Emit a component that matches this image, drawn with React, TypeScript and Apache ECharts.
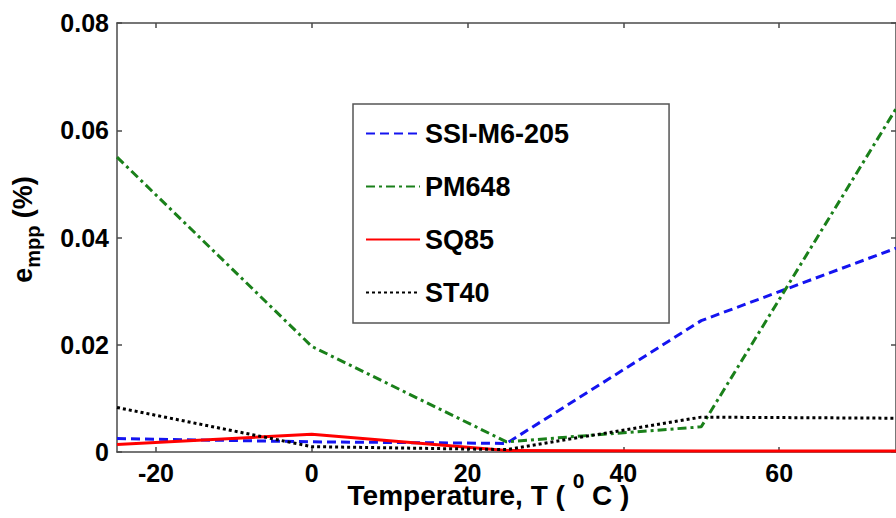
import React, { useEffect, useRef } from "react";
import * as echarts from "echarts";

const temperatures = [-25, 0, 25, 50, 75];
const ssiM6205 = [0.0025, 0.0019, 0.0016, 0.0245, 0.038];
const pm648 = [0.055, 0.0197, 0.0019, 0.0047, 0.064];
const sq85 = [0.0014, 0.0033, 0.0003, 0.0002, 0.0002];
const st40 = [0.0083, 0.001, 0.00045, 0.0065, 0.0063];
const xTickValues = [-20, 0, 20, 40, 60];
const seriesNames = ["SSI-M6-205", "PM648", "SQ85", "ST40"];

const FONT = "'Liberation Sans', Arial, sans-serif";
const AXIS_COLOR = "#4a4a4a";

function pairs(ys: number[]) {
  return temperatures.map((t, i) => [t, ys[i]]);
}

export default function App() {
  const ref = useRef<HTMLDivElement>(null);
  useEffect(() => {
    if (!ref.current) return;
    const chart = echarts.init(ref.current, undefined, { renderer: "svg" });
    const axisLine = { show: true, onZero: false, lineStyle: { color: AXIS_COLOR, width: 1.5 } };
    const xBase = {
      type: "value" as const,
      min: -25,
      max: 75,
      splitLine: { show: false },
      axisLine,
      axisTick: { show: true, inside: true, length: 5, customValues: xTickValues, lineStyle: { color: AXIS_COLOR, width: 1.5 } },
    };
    const yBase = {
      type: "value" as const,
      min: 0,
      max: 0.08,
      interval: 0.02,
      splitLine: { show: false },
      axisLine,
      axisTick: { show: true, inside: true, length: 5, lineStyle: { color: AXIS_COLOR, width: 1.5 } },
    };
    const lineSeries = (name: string, data: number[], color: string, type: any) => ({
      name,
      type: "line" as const,
      data: pairs(data),
      symbol: "none",
      lineStyle: { color, width: 3, type },
      itemStyle: { color },
      xAxisIndex: 0,
      yAxisIndex: 0,
    });
    chart.setOption({
      animation: false,
      backgroundColor: "#ffffff",
      grid: { left: 117, top: 23, right: 0, bottom: 66, containLabel: false, outerBoundsMode: "none" },
      legend: {
        data: seriesNames,
        orient: "vertical",
        left: 353,
        top: 104,
        padding: [16, 100, 17, 12],
        itemWidth: 54,
        itemHeight: 20,
        itemGap: 26,
        borderColor: "#555555",
        borderWidth: 1.5,
        backgroundColor: "#ffffff",
        itemStyle: { opacity: 0 },
        textStyle: { fontFamily: FONT, fontSize: 27, fontWeight: "bold", color: "#000", lineHeight: 20 },
      },
      xAxis: [
        {
          ...xBase,
          position: "bottom",
          name: "Temperature, T ( {sup|0} C )",
          nameLocation: "middle",
          nameGap: 18,
          nameMoveOverlap: false,
          nameTextStyle: {
            fontFamily: FONT,
            fontSize: 28,
            fontWeight: "bold",
            color: "#000",
            lineHeight: 50,
            padding: [0, 36, 0, 0],
            rich: {
              sup: { fontFamily: FONT, fontSize: 21, fontWeight: "bold", color: "#000", lineHeight: 16, verticalAlign: "top" },
            },
          },
          axisLabel: {
            show: true,
            customValues: xTickValues,
            margin: 8,
            fontFamily: FONT,
            fontSize: 25,
            fontWeight: "bold",
            color: "#000",
          },
        },
        {
          ...xBase,
          position: "top",
          axisLabel: { show: false },
        },
      ],
      yAxis: [
        {
          ...yBase,
          position: "left",
          name: "{e|e}{sub|mpp} (%)",
          nameLocation: "middle",
          nameRotate: 90,
          nameGap: 74,
          nameMoveOverlap: false,
          nameTextStyle: {
            fontFamily: FONT,
            fontSize: 27,
            fontWeight: "bold",
            color: "#000",
            lineHeight: 40,
            padding: [0, 0, 0, 16],
            rich: {
              e: { fontFamily: FONT, fontSize: 27, fontWeight: "bold", color: "#000", lineHeight: 40 },
              sub: { fontFamily: FONT, fontSize: 20, fontWeight: "bold", color: "#000", lineHeight: 20, verticalAlign: "bottom" },
            },
          },
          axisLabel: {
            show: true,
            margin: 8,
            fontFamily: FONT,
            fontSize: 25,
            fontWeight: "bold",
            color: "#000",
            formatter: (v: number) => (v === 0 ? "0" : v.toFixed(2)),
          },
        },
        {
          ...yBase,
          position: "right",
          axisLabel: { show: false },
        },
      ],
      series: [
        lineSeries(seriesNames[0], ssiM6205, "#1414f0", [9, 5]),
        lineSeries(seriesNames[1], pm648, "#1a801a", [9, 4, 3, 4]),
        lineSeries(seriesNames[2], sq85, "#ff0000", "solid"),
        lineSeries(seriesNames[3], st40, "#000000", [3, 3]),
      ],
    });
    return () => chart.dispose();
  }, []);
  return (
    <div
      ref={ref}
      style={{ position: "absolute", left: 0, top: 0, width: 896, height: 518, background: "#fff" }}
    />
  );
}
